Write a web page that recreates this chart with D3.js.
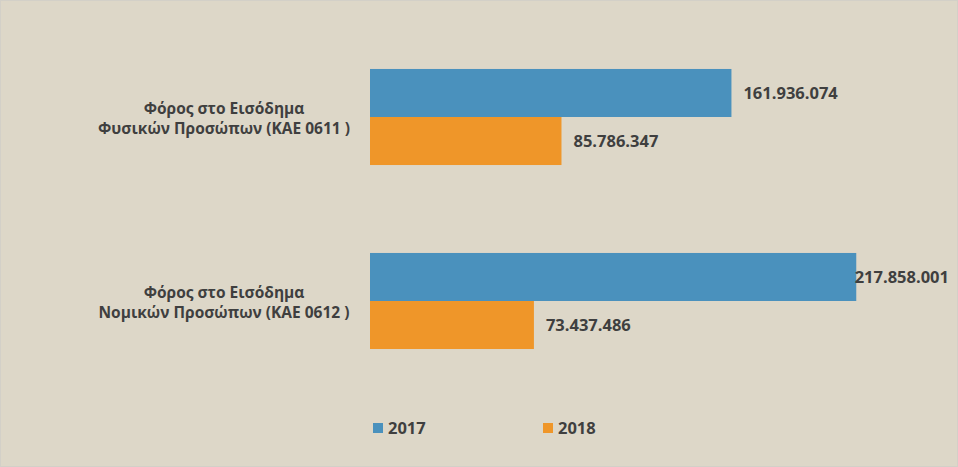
<!DOCTYPE html>
<html>
<head>
<meta charset="utf-8">
<script src="https://cdn.jsdelivr.net/npm/d3@7"></script>
<style>
  html, body { margin: 0; padding: 0; background: #fff; }
  svg { display: block; }
</style>
</head>
<body>
<svg id="chart"></svg>
<script>
// data
const categories = [
  ["Φόρος στο Εισόδημα", "Φυσικών Προσώπων (ΚΑΕ 0611 )"],
  ["Φόρος στο Εισόδημα", "Νομικών Προσώπων (ΚΑΕ 0612 )"]
];
const series = ["2017", "2018"];
const values2017 = [161936074, 217858001];
const values2018 = [85786347, 73437486];

const colors = { "2017": "#4a91bd", "2018": "#ef9629" };
const font = "'Open Sans', sans-serif";
const ink = "#3f3f3f";

const width = 958, height = 467;
const svg = d3.select("#chart").attr("width", width).attr("height", height);

svg.append("rect")
  .attr("x", 0.5).attr("y", 0.5)
  .attr("width", width - 1).attr("height", height - 1)
  .attr("fill", "#ddd7c8")
  .attr("stroke", "#d3d0c8");

const catKeys = categories.map((d, i) => i);
const y = d3.scaleBand()
  .domain(catKeys)
  .range([25, 393])
  .paddingInner(0.478)
  .paddingOuter(0.239);

const ySub = d3.scaleBand()
  .domain(series)
  .range([0, y.bandwidth()]);

const x = d3.scaleLinear()
  .domain([0, 250000000])
  .range([370, 928]);

const rows = [];
catKeys.forEach(i => {
  rows.push({ cat: i, year: "2017", value: values2017[i] });
  rows.push({ cat: i, year: "2018", value: values2018[i] });
});

const fmt = v => d3.format(",")(v).replace(/,/g, ".");

svg.append("g").selectAll("rect")
  .data(rows)
  .join("rect")
  .attr("x", x(0))
  .attr("y", d => y(d.cat) + ySub(d.year))
  .attr("width", d => x(d.value) - x(0))
  .attr("height", ySub.bandwidth())
  .attr("fill", d => colors[d.year]);

// value labels, pushed back inside the right edge like Excel does
const rightEdge = 949;
const vLabels = svg.append("g").selectAll("text")
  .data(rows)
  .join("text")
  .attr("y", d => y(d.cat) + ySub(d.year) + ySub.bandwidth() / 2)
  .attr("dy", "0.36em")
  .attr("font-family", font)
  .attr("font-weight", "bold")
  .attr("font-size", 16.5)
  .attr("fill", ink)
  .text(d => fmt(d.value));

vLabels.each(function(d) {
  const w = this.getComputedTextLength();
  let px = x(d.value) + 12;
  if (px + w > rightEdge) px = rightEdge - w;
  d3.select(this).attr("x", px);
});

// category labels
const labelX = 224;
const catG = svg.append("g").selectAll("text")
  .data(catKeys)
  .join("text")
  .attr("y", d => y(d) + y.bandwidth() / 2)
  .attr("text-anchor", "middle")
  .attr("font-family", font)
  .attr("font-weight", "bold")
  .attr("font-size", 15.5)
  .attr("fill", ink);

catG.each(function(d) {
  const t = d3.select(this);
  const cy = y(d) + y.bandwidth() / 2;
  categories[d].forEach((line, k) => {
    t.append("tspan")
      .attr("x", labelX)
      .attr("y", k === 0 ? cy - 3 : cy + 17)
      .text(line);
  });
});

// legend
const legendX = d3.scalePoint().domain(series).range([373, 543]);
const leg = svg.append("g").selectAll("g")
  .data(series)
  .join("g")
  .attr("transform", d => `translate(${legendX(d)},423)`);

leg.append("rect")
  .attr("width", 10).attr("height", 10)
  .attr("fill", d => colors[d]);

leg.append("text")
  .attr("x", 15).attr("y", 5)
  .attr("dy", "0.36em")
  .attr("font-family", font)
  .attr("font-weight", "bold")
  .attr("font-size", 16.5)
  .attr("fill", ink)
  .text(d => d);
</script>
</body>
</html>
